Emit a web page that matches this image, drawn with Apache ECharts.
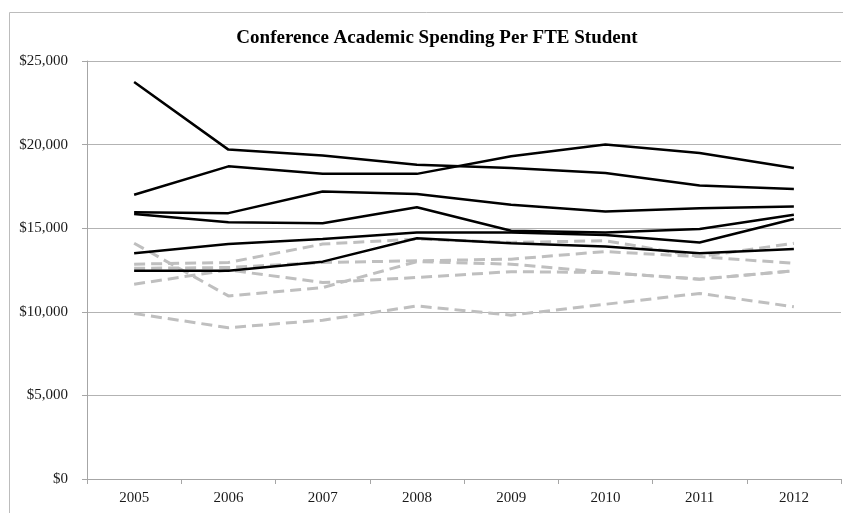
<!DOCTYPE html>
<html>
<head>
<meta charset="utf-8">
<script src="https://cdn.jsdelivr.net/npm/echarts@6/dist/echarts.min.js"></script>
<style>
  html, body { margin: 0; padding: 0; background: #fff; }
  #chart { width: 843px; height: 513px; }
</style>
</head>
<body>
<div id="chart"></div>
<script>
// Fiscal years on the category axis
const years = ['2005', '2006', '2007', '2008', '2009', '2010', '2011', '2012'];

// Y-axis ticks (dollars per FTE student)
const yTicks = [0, 5000, 10000, 15000, 20000, 25000];

// Institutions drawn as solid black lines
const solidA = [23750, 19700, 19350, 18800, 18600, 18300, 17550, 17350];
const solidB = [17000, 18700, 18250, 18250, 19300, 20000, 19500, 18600];
const solidC = [15950, 15900, 17200, 17050, 16400, 16000, 16200, 16300];
const solidD = [15850, 15350, 15300, 16250, 14850, 14750, 14950, 15800];
const solidE = [13500, 14050, 14350, 14750, 14750, 14600, 14150, 15550];
const solidF = [12450, 12450, 13000, 14400, 14100, 13900, 13500, 13750];

// Institutions drawn as dashed grey lines
const dashedG = [14100, 10950, 11450, 13000, 12850, 12350, 11950, 12450];
const dashedH = [12850, 12950, 14050, 14350, 14150, 14250, 13300, 14100];
const dashedI = [12600, 12650, 12950, 13050, 13150, 13600, 13300, 12900];
const dashedJ = [11650, 12500, 11750, 12050, 12400, 12350, 11950, 12450];
const dashedK = [9900, 9050, 9500, 10350, 9800, 10450, 11100, 10300];

const solidSeries = [solidA, solidB, solidC, solidD, solidE, solidF];
const dashedSeries = [dashedG, dashedH, dashedI, dashedJ, dashedK];

const FONT = '"Liberation Serif", "DejaVu Serif", serif';

function makeLine(data, dashed) {
  return {
    type: 'line',
    data: data,
    symbol: 'none',
    smooth: false,
    z: dashed ? 2 : 3,
    lineStyle: dashed
      ? { color: '#bfbfbf', width: 3, type: [11, 6], cap: 'butt' }
      : { color: '#000000', width: 2.5, type: 'solid' }
  };
}

const series = []
  .concat(dashedSeries.map(d => makeLine(d, true)))
  .concat(solidSeries.map(d => makeLine(d, false)));

const chart = echarts.init(document.getElementById('chart'), null, { renderer: 'canvas' });

chart.setOption({
  animation: false,
  backgroundColor: '#ffffff',
  graphic: [{
    type: 'rect',
    shape: { x: 9.5, y: 12.5, width: 900, height: 600 },
    style: { fill: 'none', stroke: '#bcbcbc', lineWidth: 1 },
    silent: true,
    z: -10
  }],
  title: {
    text: 'Conference Academic Spending Per FTE Student',
    left: 432,
    textAlign: 'center',
    top: 24,
    textStyle: { fontFamily: FONT, fontSize: 19, fontWeight: 'bold', color: '#000' }
  },
  grid: { left: 87, right: 2, top: 61, bottom: 34, containLabel: false },
  xAxis: {
    type: 'category',
    data: years,
    boundaryGap: true,
    axisLine: { show: true, lineStyle: { color: '#a6a6a6', width: 1 } },
    axisTick: { show: true, length: 5, lineStyle: { color: '#a6a6a6' } },
    axisLabel: { fontFamily: FONT, fontSize: 15, color: '#1a1a1a', margin: 12 },
    splitLine: { show: false }
  },
  yAxis: {
    type: 'value',
    min: yTicks[0],
    max: yTicks[yTicks.length - 1],
    interval: yTicks[1] - yTicks[0],
    axisLine: { show: true, lineStyle: { color: '#a6a6a6', width: 1 } },
    axisTick: { show: true, length: 5, lineStyle: { color: '#a6a6a6' } },
    axisLabel: {
      fontFamily: FONT, fontSize: 15, color: '#1a1a1a', margin: 19,
      formatter: v => '$' + v.toLocaleString('en-US')
    },
    splitLine: { show: true, lineStyle: { color: '#b3b3b3', width: 1 } }
  },
  series: series
});
</script>
</body>
</html>
